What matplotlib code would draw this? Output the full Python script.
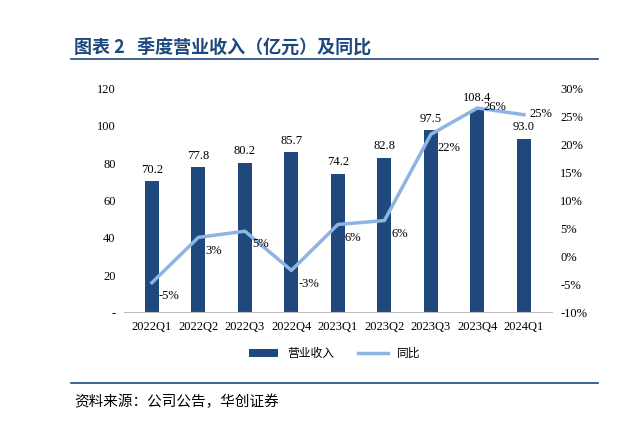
import matplotlib.pyplot as plt
import numpy as np

quarters = ["2022Q1", "2022Q2", "2022Q3", "2022Q4", "2023Q1", "2023Q2", "2023Q3", "2023Q4", "2024Q1"]
revenue = [70.2, 77.8, 80.2, 85.7, 74.2, 82.8, 97.5, 108.4, 93.0]
yoy = [-4.7, 3.4, 4.5, -2.5, 5.7, 6.4, 21.8, 26.5, 25.3]
yoy_labels = ["-5%", "3%", "5%", "-3%", "6%", "6%", "22%", "26%", "25%"]

bar_color = "#1F497D"
line_color = "#8EB4E3"
cjk = ["Noto Sans CJK SC", "DejaVu Sans"]
serif = ["Liberation Serif", "DejaVu Serif"]

fig = plt.figure(figsize=(6.2, 4.21), dpi=100)
fig.text(0.12, 0.875, "图表 2   季度营业收入（亿元）及同比", family=cjk, fontsize=13,
         fontweight="bold", color=bar_color)
fig.add_artist(plt.Line2D([0.115, 0.965], [0.86, 0.86], color=bar_color, lw=1.2))
fig.add_artist(plt.Line2D([0.115, 0.965], [0.09, 0.09], color=bar_color, lw=1.2))
fig.text(0.12, 0.035, "资料来源：公司公告，华创证券", family=cjk, fontsize=10.5, style="italic")

ax = fig.add_axes([0.2, 0.258, 0.69, 0.532])
x = np.arange(len(quarters))
ax.bar(x, revenue, width=0.3, color=bar_color, label="营业收入")
for xi, v in zip(x, revenue):
    ax.text(xi, v + 3, f"{v:.1f}", ha="center", va="bottom", family=serif, fontsize=9)
ax.set_ylim(0, 120)
ax.set_yticks(range(0, 121, 20))
ax.set_yticklabels(["-"] + [str(v) for v in range(20, 121, 20)], family=serif, fontsize=9)
ax.set_xticks(x)
ax.set_xticklabels(quarters, family=serif, fontsize=9)
ax.set_xlim(-0.6, len(quarters) - 0.4)
for s in ["top", "right", "left"]:
    ax.spines[s].set_visible(False)
ax.spines["bottom"].set_color("#BFBFBF")
ax.tick_params(length=0, pad=6)

ax2 = ax.twinx()
ax2.plot(x, yoy, color=line_color, lw=2.5, label="同比")
for i, (xi, v, lab) in enumerate(zip(x, yoy, yoy_labels)):
    if i >= 7:
        ax2.text(xi + 0.12, v + 0.2, lab, ha="left", va="center", family=serif, fontsize=9)
    else:
        ax2.text(xi + 0.15, v - 1.3, lab, ha="left", va="top", family=serif, fontsize=9)
ax2.set_ylim(-10, 30)
ax2.set_yticks(range(-10, 31, 5))
ax2.set_yticklabels([f"{v}%" for v in range(-10, 31, 5)], family=serif, fontsize=9)
for s in ["top", "right", "left", "bottom"]:
    ax2.spines[s].set_visible(False)
ax2.tick_params(length=0, pad=6)

h1, l1 = ax.get_legend_handles_labels()
h2, l2 = ax2.get_legend_handles_labels()
fig.legend(h1 + h2, l1 + l2, loc="center", bbox_to_anchor=(0.54, 0.16), ncol=2,
           frameon=False, prop={"family": cjk, "size": 8.5}, handlelength=2.5)

fig.savefig("out.png", dpi=100)
